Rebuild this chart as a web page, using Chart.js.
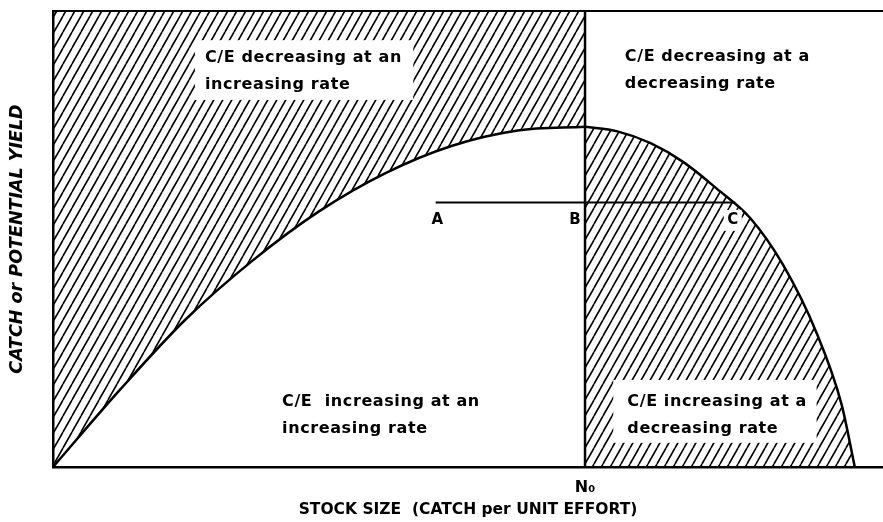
<!DOCTYPE html>
<html>
<head>
<meta charset="utf-8">
<script src="https://cdn.jsdelivr.net/npm/chart.js@4.4.1/dist/chart.umd.min.js"></script>
<style>
  html, body { margin: 0; padding: 0; background: #fff; }
  #c { display: block; }
</style>
</head>
<body>
<canvas id="c" width="883" height="522"></canvas>
<script>
// ---- data (arbitrary units: stock 0-100, catch 0-100) ----
const N0 = 64.1;                                   // stock size at maximum yield
const risingX  = [0, 8, 16, 24, 32, 40, 48, 56, 64.1];
const risingY  = [0, 16.8, 32.4, 45.2, 56.0, 64.4, 70.4, 73.8, 74.6];
const fallingX = [64.1, 68, 72, 76, 80, 84, 88, 92, 95, 96.6];
const fallingY = [74.6, 73.6, 71.0, 66.8, 61.0, 54.6, 44.2, 29.4, 13.8, 0];
const lineABCx = [46.1, 82.2];
const lineABCy = [58.0, 58.0];
const pointLabels = ['A', 'B', 'C'];
const pointLabelX = [46.3, 62.9, 81.9];
const pointLabelY = [54.2, 54.2, 54.2];
const regionTexts = [
  ['C/E decreasing at an', 'increasing rate'],
  ['C/E decreasing at a', 'decreasing rate'],
  ['C/E  increasing at an', 'increasing rate'],
  ['C/E increasing at a', 'decreasing rate']
];
const xTickLabels = ['N\u2080'];
const xTitle = 'STOCK SIZE  (CATCH per UNIT EFFORT)';
const yTitle = 'CATCH or POTENTIAL YIELD';

const pts = (xs, ys) => xs.map((v, i) => ({ x: v, y: ys[i] }));

function hatchPattern() {
  const s = 9, h = 16;
  const c = document.createElement('canvas');
  c.width = s; c.height = h;
  const g = c.getContext('2d');
  g.strokeStyle = '#000';
  g.lineWidth = 1.6;
  g.beginPath();
  for (const o of [-s, 0, s]) { g.moveTo(o, h); g.lineTo(o + s, 0); }
  g.stroke();
  return g.createPattern(c, 'repeat');
}
const hatch = hatchPattern();

// text placement (data units) for region notes and their white backgrounds
const regionPos = [
  { x: 18.3, y: 89.7, box: [17.1, 93.6, 43.4, 80.5] },
  { x: 68.9, y: 89.9, box: null },
  { x: 27.6, y: 14.3, box: null },
  { x: 69.2, y: 14.3, box: [67.5, 19.1, 92.0, 5.3] }
];

const notesPlugin = {
  id: 'notes',
  afterDatasetsDraw(chart) {
    const { ctx } = chart;
    const xs = chart.scales.x, ys = chart.scales.y;
    ctx.save();
    ctx.fillStyle = '#fff';
    regionPos.forEach(p => {
      if (!p.box) return;
      const x0 = xs.getPixelForValue(p.box[0]), y0 = ys.getPixelForValue(p.box[1]);
      const x1 = xs.getPixelForValue(p.box[2]), y1 = ys.getPixelForValue(p.box[3]);
      ctx.fillRect(x0, y0, x1 - x0, y1 - y0);
    });
    {
      const cx = xs.getPixelForValue(pointLabelX[2]), cy = ys.getPixelForValue(pointLabelY[2]);
      ctx.fillRect(cx - 9, cy - 10, 18, 21);
    }
    ctx.fillStyle = '#000';
    ctx.textBaseline = 'middle';
    ctx.textAlign = 'left';
    ctx.font = 'bold 16px "DejaVu Sans"';
    if ('letterSpacing' in ctx) ctx.letterSpacing = '0.6px';
    regionTexts.forEach((lines, i) => {
      const px = xs.getPixelForValue(regionPos[i].x);
      const py = ys.getPixelForValue(regionPos[i].y);
      lines.forEach((t, j) => ctx.fillText(t, px, py + j * 27));
    });
    if ('letterSpacing' in ctx) ctx.letterSpacing = '0px';
    ctx.textAlign = 'center';
    ctx.font = 'bold 15px "DejaVu Sans"';
    pointLabels.forEach((t, i) => {
      ctx.fillText(t, xs.getPixelForValue(pointLabelX[i]), ys.getPixelForValue(pointLabelY[i]));
    });
    ctx.restore();
  }
};

new Chart(document.getElementById('c'), {
  type: 'line',
  data: {
    datasets: [
      { data: pts(risingX, risingY), fill: 'end', backgroundColor: hatch,
        borderColor: '#000', borderWidth: 2.5, pointRadius: 0, cubicInterpolationMode: 'monotone', xAxisID: 'x', yAxisID: 'y' },
      { data: pts(fallingX, fallingY), fill: 'origin', backgroundColor: hatch,
        borderColor: '#000', borderWidth: 2.5, pointRadius: 0, cubicInterpolationMode: 'monotone', xAxisID: 'x', yAxisID: 'y' },
      { data: [{ x: N0, y: 0 }, { x: N0, y: 100 }], fill: false,
        borderColor: '#000', borderWidth: 2.5, pointRadius: 0, xAxisID: 'x', yAxisID: 'y' },
      { data: pts(lineABCx, lineABCy), fill: false,
        borderColor: '#000', borderWidth: 2, pointRadius: 0, xAxisID: 'x', yAxisID: 'y' }
    ]
  },
  options: {
    responsive: false,
    animation: false,
    devicePixelRatio: 1,
    layout: { padding: 0 },
    plugins: { legend: { display: false }, tooltip: { enabled: false } },
    scales: {
      x: {
        type: 'linear', position: 'bottom', min: 0, max: 100,
        grid: { display: false, drawTicks: false },
        border: { display: true, color: '#000', width: 2.5 },
        afterBuildTicks: s => { s.ticks = [{ value: N0 }]; },
        afterFit: s => { s.height = 55; },
        ticks: { callback: () => xTickLabels[0], color: '#000', padding: 11, maxRotation: 0,
                 font: { family: 'DejaVu Sans', size: 16, weight: 'bold' } },
        title: { display: true, text: xTitle, color: '#000', padding: { top: 0, bottom: 3 },
                 font: { family: 'DejaVu Sans', size: 15.5, weight: 'bold' } }
      },
      xTop: {
        type: 'linear', position: 'top', min: 0, max: 100,
        grid: { display: false, drawTicks: false },
        ticks: { display: false },
        border: { display: true, color: '#000', width: 2 },
        afterFit: s => { s.height = 11; }
      },
      y: {
        type: 'linear', position: 'left', min: 0, max: 100,
        grid: { display: false, drawTicks: false },
        ticks: { display: false },
        border: { display: true, color: '#000', width: 2.5 },
        afterFit: s => { s.width = 53; },
        title: { display: true, text: yTitle, color: '#000', padding: { top: 7, bottom: 0 },
                 font: { family: 'DejaVu Sans', size: 17.5, weight: 'bold', style: 'italic' } }
      }
    }
  },
  plugins: [notesPlugin]
});
</script>
</body>
</html>
